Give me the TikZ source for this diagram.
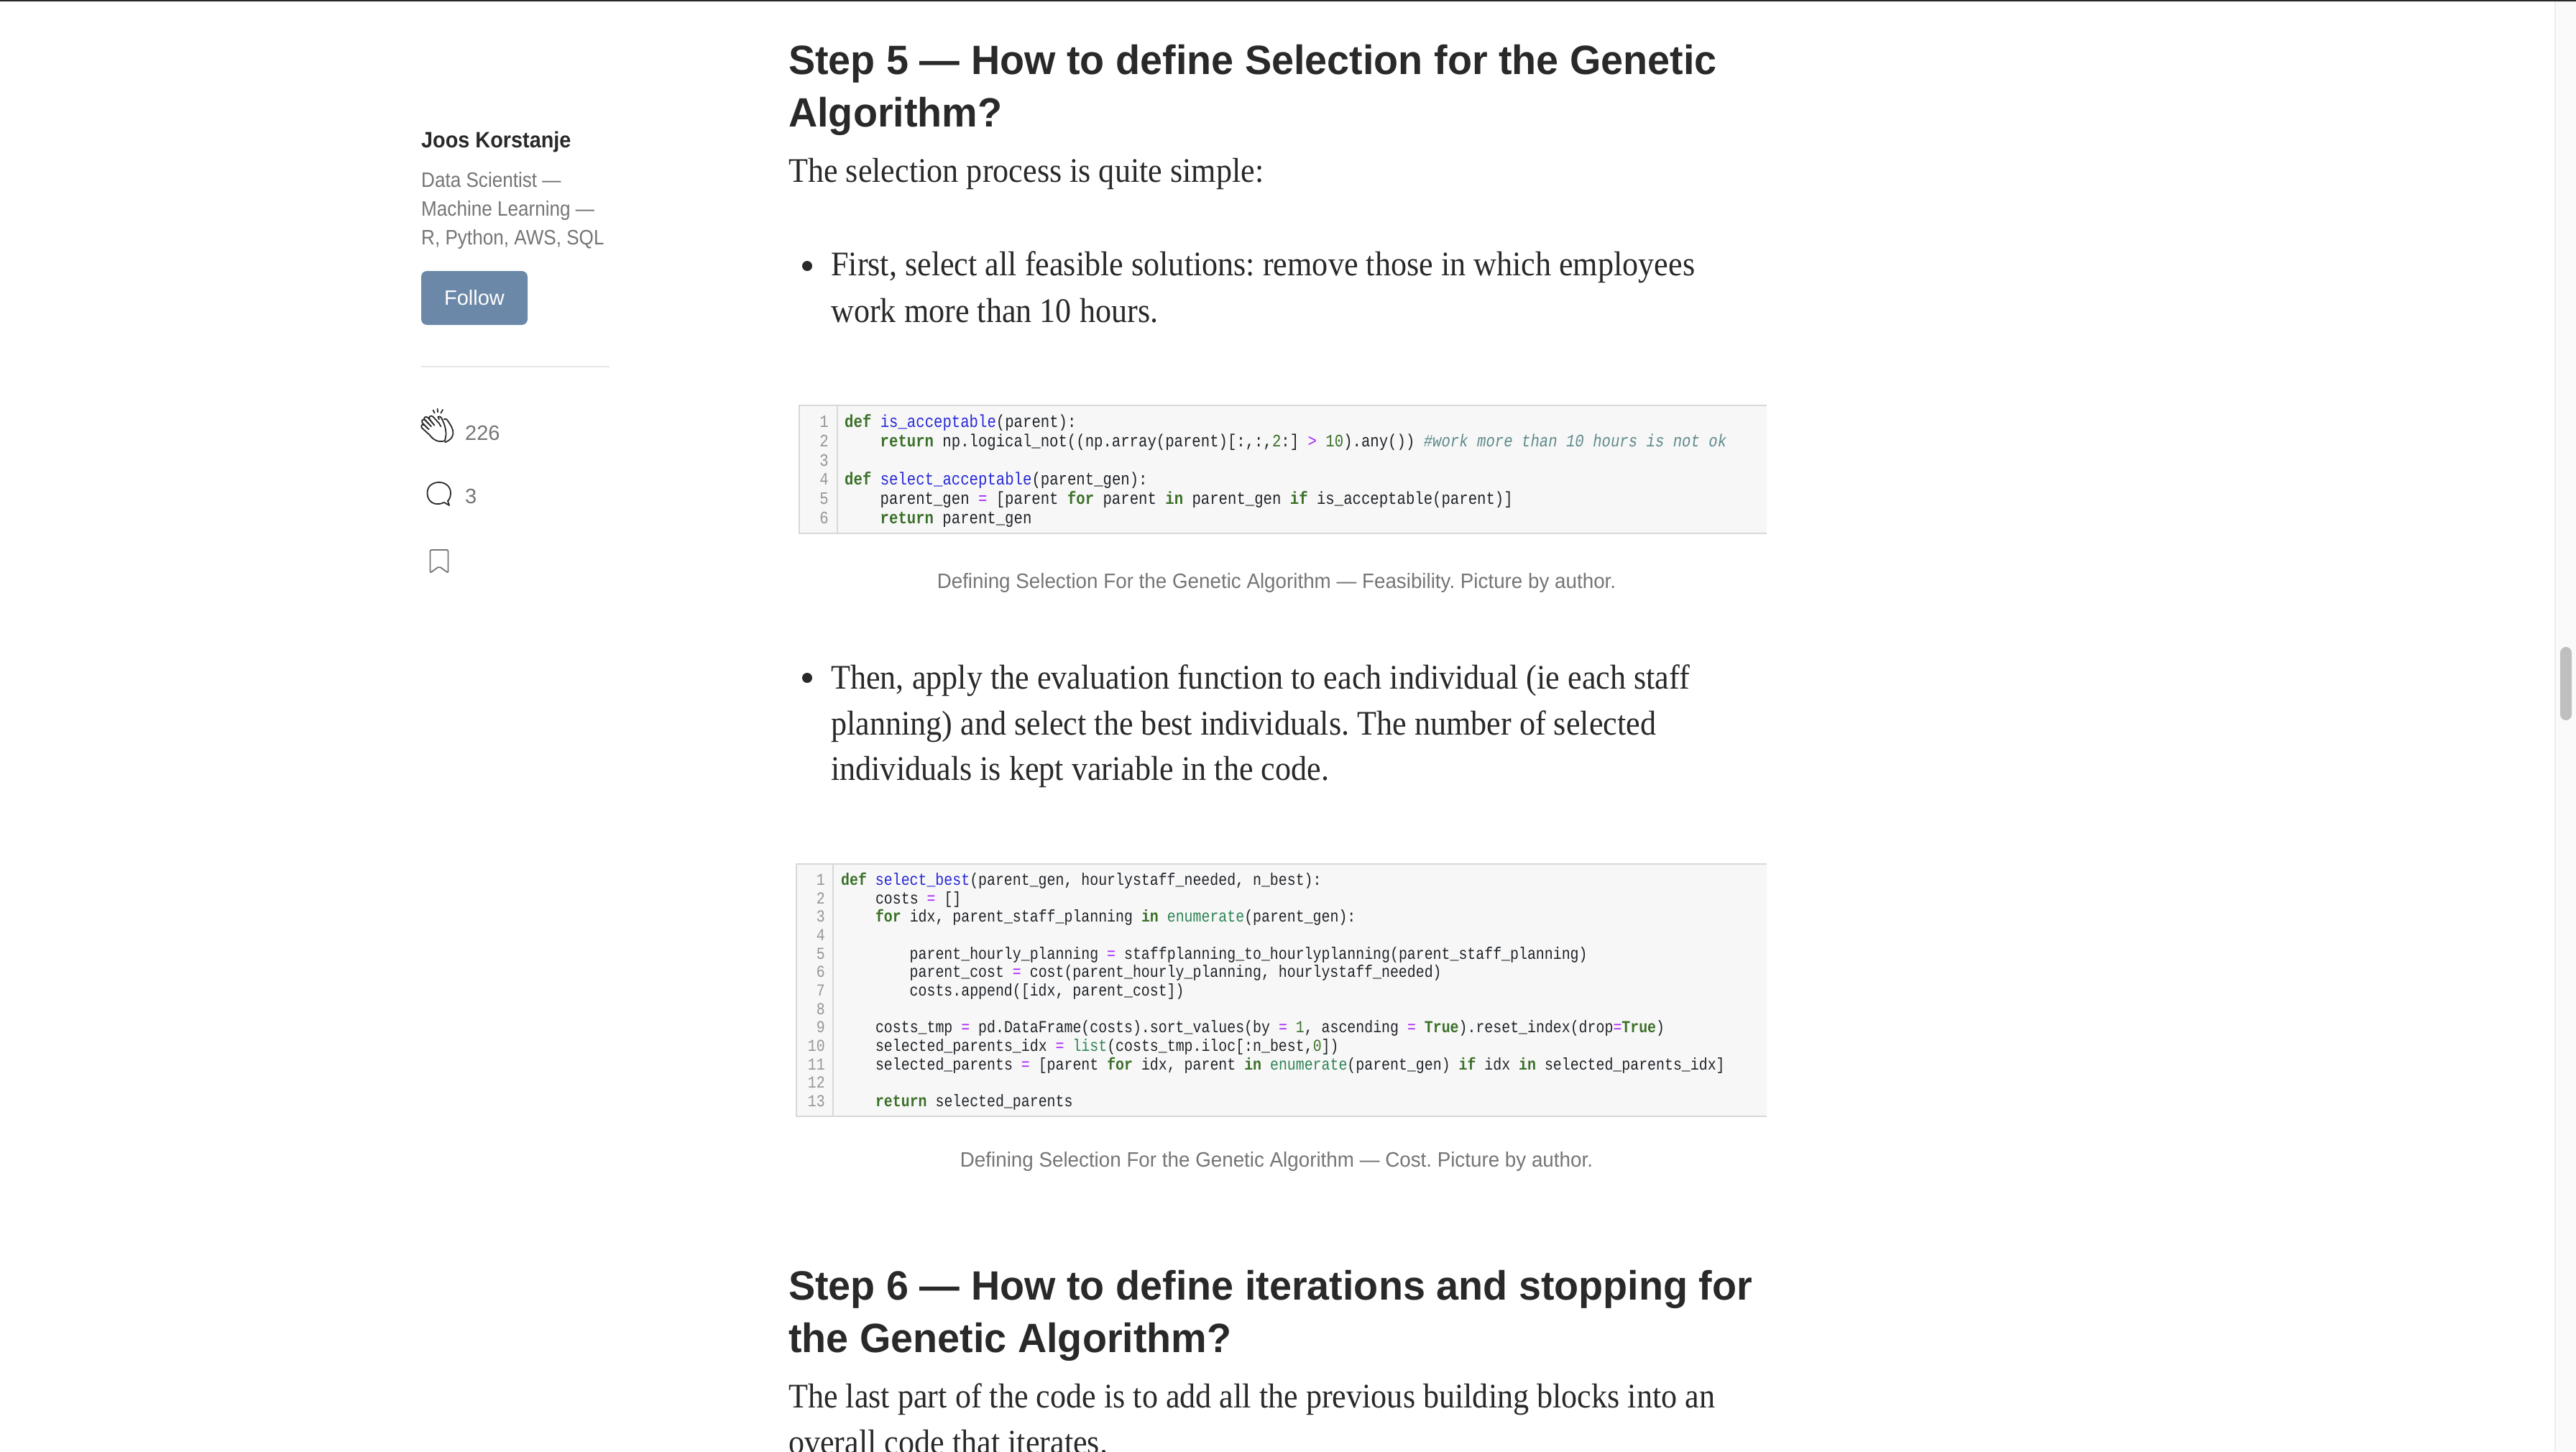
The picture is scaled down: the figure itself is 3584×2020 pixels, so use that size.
\documentclass[tikz,border=0pt]{standalone}
\usepackage{fontspec}
\newfontfamily\headfont[FakeStretch=0.978]{Liberation Sans}
\newfontfamily\bodyfont[FakeStretch=0.92]{Liberation Serif}
\newfontfamily\capfont[FakeStretch=0.958]{Liberation Sans}
\newfontfamily\biofont[FakeStretch=0.9]{Liberation Sans}
\newfontfamily\namefont[FakeStretch=0.93]{Liberation Sans}
\newfontfamily\uifont{Liberation Sans}
\newfontfamily\codefont[FakeStretch=0.85]{Liberation Mono}
\definecolor{mdink}{RGB}{41,41,41}
\definecolor{mdgrey}{RGB}{117,117,117}
\definecolor{mdbtn}{RGB}{108,136,168}
\definecolor{mdrule}{RGB}{230,230,230}
\definecolor{codebg}{RGB}{247,247,247}
\definecolor{codeedge}{RGB}{216,216,216}
\definecolor{codegutter}{RGB}{150,150,150}
\definecolor{codetext}{RGB}{31,35,40}
\definecolor{codekw}{RGB}{58,112,40}
\definecolor{codefn}{RGB}{40,40,214}
\definecolor{codebi}{RGB}{46,132,86}
\definecolor{codeop}{RGB}{170,34,255}
\definecolor{codecm}{RGB}{95,138,139}
\newcommand{\kwd}[1]{\textcolor{codekw}{\textbf{#1}}}
\newcommand{\fnc}[1]{\textcolor{codefn}{#1}}
\newcommand{\bltn}[1]{\textcolor{codebi}{#1}}
\newcommand{\oper}[1]{\textcolor{codeop}{#1}}
\newcommand{\numb}[1]{\textcolor{codekw}{#1}}
\newcommand{\cmnt}[1]{\textcolor{codecm}{\textit{#1}}}
\tikzset{
  headline/.style={anchor=base west, inner sep=0pt, text=mdink, font=\headfont\bfseries\fontsize{57}{57}\selectfont},
  bodyline/.style={anchor=base west, inner sep=0pt, text=mdink, font=\bodyfont\fontsize{48}{48}\selectfont},
  capline/.style={anchor=base, inner sep=0pt, text=mdgrey, font=\capfont\fontsize{29}{29}\selectfont},
  bioline/.style={anchor=base west, inner sep=0pt, text=mdgrey, font=\biofont\fontsize{29}{29}\selectfont},
  sideline/.style={anchor=base west, inner sep=0pt, text=mdgrey, font=\uifont\fontsize{29}{29}\selectfont},
  codeA/.style={anchor=base west, inner sep=0pt, text=codetext, font=\codefont\fontsize{24.3}{24.3}\selectfont},
  codeB/.style={anchor=base west, inner sep=0pt, text=codetext, font=\codefont\fontsize{23.4}{23.4}\selectfont},
  numA/.style={anchor=base east, inner sep=0pt, text=codegutter, font=\codefont\fontsize{24.3}{24.3}\selectfont},
  numB/.style={anchor=base east, inner sep=0pt, text=codegutter, font=\codefont\fontsize{23.4}{23.4}\selectfont},
  iconline/.style={line width=1.8pt, line join=round, line cap=round}
}
\begin{document}
\frenchspacing
\begin{tikzpicture}[x=1pt, y=-1pt]
    \useasboundingbox (0,0) rectangle (3584,2020);
    \fill[white] (0,0) rectangle (3584,2020);
    % window edge and scroll bar
    \fill[mdink] (0,0) rectangle (3584,2);
    \fill[black!2] (3554,2) rectangle (3584,2020);
    \fill[black!7] (3554,2) rectangle (3556,2020);
    \fill[black!25, rounded corners=8pt] (3562,900) rectangle (3578,1002);

    % left column
    \node[anchor=base west, inner sep=0pt, text=mdink, font=\namefont\bfseries\fontsize{31}{31}\selectfont] (authorname) at (586,206) {Joos Korstanje};
    \node[bioline] (bioa) at (586,260) {Data Scientist —};
    \node[bioline] (biob) at (586,300) {Machine Learning —};
    \node[bioline] (bioc) at (586,340) {R, Python, AWS, SQL};
    \fill[mdbtn, rounded corners=8pt] (586,377) rectangle (734,452);
    \node[anchor=base, inner sep=0pt, text=white, font=\uifont\fontsize{29}{29}\selectfont] (follow) at (660,424) {Follow};
    \fill[mdrule] (586,509) rectangle (848,511);

    % clap icon
    \begin{scope}[shift={(576,560)}, x=0.3333pt, y=-0.3333pt]
      \draw[iconline, mdink] (80,32) -- (86,44) (98,26) -- (99,40) (120,30) -- (112,44);
      \draw[iconline, mdink] (128,160) .. controls (100,168) and (80,155) .. (65,135) -- (33,106)
        .. controls (26,98) and (34,88) .. (43,94) -- (62,112) -- (36,86)
        .. controls (28,76) and (38,66) .. (47,73) -- (72,100) -- (44,72)
        .. controls (38,62) and (50,56) .. (58,63) -- (85,95) -- (64,68)
        .. controls (62,56) and (72,52) .. (80,60) -- (105,87) -- (112,100);
      \draw[iconline, mdink] (105,70) -- (100,60) .. controls (108,55) and (115,62) .. (118,72)
        .. controls (130,95) and (140,130) .. (128,160);
      \draw[iconline, mdink] (125,70) .. controls (135,62) and (142,78) .. (150,90)
        .. controls (170,120) and (170,150) .. (130,166);
    \end{scope}
    \node[sideline] (clapcount) at (647,612) {226};

    % comment icon
    \draw[iconline, mdink] (618,699) .. controls (605,705) and (594.5,698) .. (594.5,686)
      .. controls (594.5,676) and (602,671) .. (611,671)
      .. controls (620,671) and (627,677) .. (627,686)
      .. controls (627,691) and (625,695) .. (623,697) -- (625,703) -- (618,699);
    \node[sideline] (commentcount) at (647,700) {3};

    % bookmark icon
    \draw[iconline, mdgrey, rounded corners=2pt] (598.5,797) -- (598.5,765) -- (623.5,765) -- (623.5,797) -- (611,788) -- cycle;

    % first article block
    \node[headline] (stepfive) at (1097,104) {Step 5 — How to define Selection for the Genetic};
    \node[headline] (stepfiveb) at (1097,177) {Algorithm?};
    \node[bodyline] (intro) at (1097,253) {The selection process is quite simple:};
    \fill[mdink] (1123,370) circle (7pt);
    \node[bodyline] (firsta) at (1156,383) {First, select all feasible solutions: remove those in which employees};
    \node[bodyline] (firstb) at (1156,448) {work more than 10 hours.};

    % first code picture
    \fill[codebg] (1112,563) rectangle (2458,743);
    \draw[codeedge, line width=2.5pt] (2458,564) -- (1112,564) -- (1112,742) -- (2458,742);
    \draw[codeedge, line width=1.5pt] (1165,564) -- (1165,742);
    \node[numA] (acceptnum1) at (1153,594) {1};
    \node[numA] (acceptnum2) at (1153,621) {2};
    \node[numA] (acceptnum3) at (1153,648) {3};
    \node[numA] (acceptnum4) at (1153,674) {4};
    \node[numA] (acceptnum5) at (1153,701) {5};
    \node[numA] (acceptnum6) at (1153,728) {6};
    \node[codeA] (acceptline1) at (1175,594) {\kwd{def} \fnc{is\_acceptable}(parent):};
    \node[codeA] (acceptline2) at (1224.5,621) {\kwd{return} np.logical\_not((np.array(parent)[:,:,\numb{2}:] \oper{>} \numb{10}).any()) \cmnt{\#work more than 10 hours is not ok}};
    \node[codeA] (acceptline4) at (1175,674) {\kwd{def} \fnc{select\_acceptable}(parent\_gen):};
    \node[codeA] (acceptline5) at (1224.5,701) {parent\_gen \oper{=} [parent \kwd{for} parent \kwd{in} parent\_gen \kwd{if} is\_acceptable(parent)]};
    \node[codeA] (acceptline6) at (1224.5,728) {\kwd{return} parent\_gen};
    \node[capline] (capfeasible) at (1776,818) {Defining Selection For the Genetic Algorithm — Feasibility. Picture by author.};

    % second bullet
    \fill[mdink] (1123,943) circle (7pt);
    \node[bodyline] (thena) at (1156,958) {Then, apply the evaluation function to each individual (ie each staff};
    \node[bodyline] (thenb) at (1156,1022) {planning) and select the best individuals. The number of selected};
    \node[bodyline] (thenc) at (1156,1085) {individuals is kept variable in the code.};

    % second code picture
    \fill[codebg] (1108,1201) rectangle (2458,1554);
    \draw[codeedge, line width=2.5pt] (2458,1202) -- (1108,1202) -- (1108,1553) -- (2458,1553);
    \draw[codeedge, line width=1.5pt] (1159,1202) -- (1159,1553);
    \node[numB] (bestnum1) at (1148,1231) {1};
    \node[numB] (bestnum2) at (1148,1257) {2};
    \node[numB] (bestnum3) at (1148,1282) {3};
    \node[numB] (bestnum4) at (1148,1308) {4};
    \node[numB] (bestnum5) at (1148,1334) {5};
    \node[numB] (bestnum6) at (1148,1359) {6};
    \node[numB] (bestnum7) at (1148,1385) {7};
    \node[numB] (bestnum8) at (1148,1411) {8};
    \node[numB] (bestnum9) at (1148,1436) {9};
    \node[numB] (bestnum10) at (1148,1462) {10};
    \node[numB] (bestnum11) at (1148,1488) {11};
    \node[numB] (bestnum12) at (1148,1513) {12};
    \node[numB] (bestnum13) at (1148,1539) {13};
    \node[codeB] (bestline1) at (1170,1231) {\kwd{def} \fnc{select\_best}(parent\_gen, hourlystaff\_needed, n\_best):};
    \node[codeB] (bestline2) at (1217.8,1257) {costs \oper{=} []};
    \node[codeB] (bestline3) at (1217.8,1282) {\kwd{for} idx, parent\_staff\_planning \kwd{in} \bltn{enumerate}(parent\_gen):};
    \node[codeB] (bestline5) at (1265.5,1334) {parent\_hourly\_planning \oper{=} staffplanning\_to\_hourlyplanning(parent\_staff\_planning)};
    \node[codeB] (bestline6) at (1265.5,1359) {parent\_cost \oper{=} cost(parent\_hourly\_planning, hourlystaff\_needed)};
    \node[codeB] (bestline7) at (1265.5,1385) {costs.append([idx, parent\_cost])};
    \node[codeB] (bestline9) at (1217.8,1436) {costs\_tmp \oper{=} pd.DataFrame(costs).sort\_values(by \oper{=} \numb{1}, ascending \oper{=} \kwd{True}).reset\_index(drop\oper{=}\kwd{True})};
    \node[codeB] (bestline10) at (1217.8,1462) {selected\_parents\_idx \oper{=} \bltn{list}(costs\_tmp.iloc[:n\_best,\numb{0}])};
    \node[codeB] (bestline11) at (1217.8,1488) {selected\_parents \oper{=} [parent \kwd{for} idx, parent \kwd{in} \bltn{enumerate}(parent\_gen) \kwd{if} idx \kwd{in} selected\_parents\_idx]};
    \node[codeB] (bestline13) at (1217.8,1539) {\kwd{return} selected\_parents};
    \node[capline] (capcost) at (1776,1623) {Defining Selection For the Genetic Algorithm — Cost. Picture by author.};

    % last block
    \node[headline] (stepsix) at (1097,1808) {Step 6 — How to define iterations and stopping for};
    \node[headline] (stepsixb) at (1097,1881) {the Genetic Algorithm?};
    \node[bodyline] (lasta) at (1097,1958) {The last part of the code is to add all the previous building blocks into an};
    \node[bodyline] (lastb) at (1097,2022) {overall code that iterates.};
  \end{tikzpicture}
\end{document}
